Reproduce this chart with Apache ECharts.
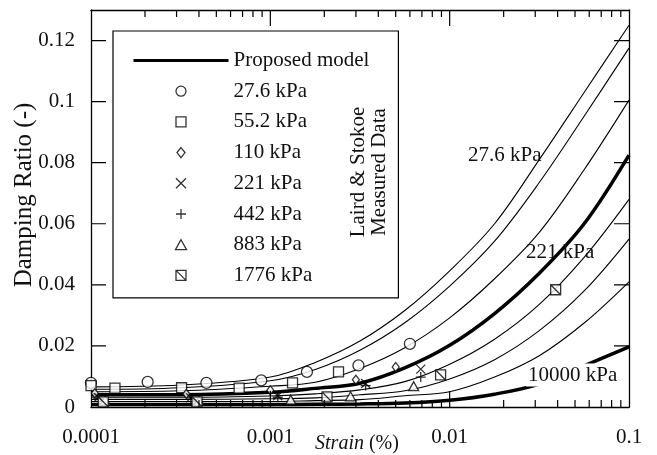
<!DOCTYPE html>
<html>
<head>
<meta charset="utf-8">
<script src="https://cdn.jsdelivr.net/npm/echarts@6/dist/echarts.min.js"></script>
<style>
    html, body { margin: 0; padding: 0; background: #fff; }
    #chart { width: 657px; height: 455px; }
</style>
</head>
<body>
<div id="chart"></div>
<script>
// strain (%) points where the model curves were read
var strainGrid = [0.0001, 0.000316, 0.001, 0.00178, 0.00316, 0.00562, 0.01, 0.0178, 0.0316, 0.0562, 0.1];

// proposed model, damping ratio for each confining pressure
var model27 = [0.0066, 0.0072, 0.0098, 0.0146, 0.0216, 0.0316, 0.0446, 0.060, 0.081, 0.103, 0.125];
var model55 = [0.0058, 0.0063, 0.0086, 0.0123, 0.0186, 0.0276, 0.0396, 0.0543, 0.0735, 0.0952, 0.1175];
var model110 = [0.0050, 0.0053, 0.0068, 0.0081, 0.0126, 0.0194, 0.0292, 0.042, 0.0572, 0.0777, 0.1005];
var model221 = [0.0040, 0.0040, 0.0048, 0.0061, 0.0078, 0.0128, 0.0202, 0.0306, 0.0438, 0.060, 0.0825];
var model442 = [0.0032, 0.0032, 0.0036, 0.0043, 0.0056, 0.0083, 0.014, 0.0222, 0.0336, 0.049, 0.068];
var model883 = [0.0025, 0.0025, 0.0027, 0.0030, 0.0040, 0.0053, 0.0092, 0.0155, 0.025, 0.038, 0.055];
var model1776 = [0.0018, 0.0018, 0.0018, 0.0021, 0.0024, 0.0037, 0.0050, 0.0098, 0.0168, 0.0275, 0.041];
var model10000 = [0.0008, 0.0008, 0.0008, 0.0009, 0.0010, 0.0013, 0.0022, 0.0042, 0.0075, 0.0135, 0.0197];

// Laird & Stokoe measured data [strain, damping]
var data27 = [[0.0001, 0.0079], [0.000207, 0.0082], [0.00044, 0.0079], [0.00089, 0.0087], [0.0016, 0.0115], [0.0031, 0.0136], [0.0060, 0.0207]];
var data55 = [[0.0001, 0.0070], [0.000136, 0.0062], [0.00032, 0.0063], [0.00067, 0.0062], [0.00133, 0.0079], [0.0024, 0.0115]];
var data110 = [[0.000105, 0.0045], [0.00034, 0.0043], [0.001, 0.0055], [0.0030, 0.0089], [0.0050, 0.0131]];
var data221 = [[0.00011, 0.0031], [0.00036, 0.0030], [0.0011, 0.0037], [0.0034, 0.0077], [0.0069, 0.0124]];
var data442 = [[0.00011, 0.0027], [0.00036, 0.0026], [0.0011, 0.0032], [0.0034, 0.0070], [0.0069, 0.0098]];
var data883 = [[0.00012, 0.0021], [0.0004, 0.0020], [0.0013, 0.0024], [0.0028, 0.0035], [0.0063, 0.0068]];
var data1776 = [[0.000117, 0.0017], [0.00039, 0.0017], [0.00207, 0.0033], [0.0089, 0.0105], [0.039, 0.0384]];

var xTickLabels = ['0.0001', '0.001', '0.01', '0.1'];
var yTicks = [0, 0.02, 0.04, 0.06, 0.08, 0.1, 0.12];
var yTickLabels = ['0', '0.02', '0.04', '0.06', '0.08', '0.1', '0.12'];

var FONT = 'Liberation Serif';
var INK = '#111';

// plot box in pixels, used to turn tick lengths into axis units
var GRID = { left: 91, right: 28, top: 10, bottom: 48 };
var X_MIN = -4, X_MAX = -1, Y_MIN = 0, Y_MAX = 0.13;
var plotW = 657 - GRID.left - GRID.right;
var plotH = 455 - GRID.top - GRID.bottom;

// x axis runs in log10(strain); minor ticks at 2..9 of each decade
var majorTicks = [-3, -2];
var minorTicks = [];
[-4, -3, -2].forEach(function (e) {
    for (var k = 2; k <= 9; k++) {
        minorTicks.push(e + Math.log10(k));
    }
});

var SYM = {
    square: 'path://M0,0L10,0L10,10L0,10Z',
    diamond: 'path://M4,0L8,5L4,10L0,5Z',
    cross: 'path://M0,0L10,10M10,0L0,10',
    plus: 'path://M5,0L5,10M0,5L10,5',
    triangle: 'path://M5,0L10,9L0,9Z',
    boxSlash: 'path://M0,0L10,0L10,10L0,10ZM0,0L10,10'
};

function toLog(pts) {
    return pts.map(function (p) {
        return [Math.log10(p[0]), p[1]];
    });
}

function zip(ys) {
    var out = [];
    for (var i = 0; i < strainGrid.length; i++) {
        out.push([strainGrid[i], ys[i]]);
    }
    return toLog(out);
}

function curve(name, ys, width) {
    return {
        name: name,
        type: 'line',
        data: zip(ys),
        smooth: 0.35,
        symbol: 'none',
        showSymbol: false,
        itemStyle: { opacity: 0 },
        lineStyle: { color: '#000', width: width },
        z: 2
    };
}

function marks(name, data, symbol, size) {
    return {
        name: name,
        type: 'scatter',
        data: toLog(data),
        symbol: symbol,
        symbolSize: size,
        itemStyle: { color: '#fff', borderColor: '#000', borderWidth: 1.3 },
        z: 3
    };
}

// inward frame ticks, as broken polylines in axis units
function tickSeries() {
    var yPerPx = (Y_MAX - Y_MIN) / plotH;
    var xPerPx = (X_MAX - X_MIN) / plotW;
    var pts = [];
    function add(a, b) {
        pts.push(a, b, [a[0], '-']);
    }
    majorTicks.forEach(function (v) {
        add([v, Y_MIN], [v, Y_MIN + 16 * yPerPx]);
        add([v, Y_MAX], [v, Y_MAX - 16 * yPerPx]);
    });
    minorTicks.forEach(function (v) {
        add([v, Y_MIN], [v, Y_MIN + 7 * yPerPx]);
        add([v, Y_MAX], [v, Y_MAX - 7 * yPerPx]);
    });
    yTicks.slice(1).forEach(function (v) {
        add([X_MIN, v], [X_MIN + 15 * xPerPx, v]);
        add([X_MAX, v], [X_MAX - 15 * xPerPx, v]);
    });
    return {
        name: 'frame ticks',
        type: 'line',
        data: pts,
        connectNulls: false,
        symbol: 'none',
        showSymbol: false,
        silent: true,
        clip: false,
        lineStyle: { color: '#000', width: 1.2 },
        z: 4
    };
}

function xLabel(v) {
    var s = xTickLabels[Math.round(v) + 4];
    return s === undefined ? '' : s;
}

function yLabel(v) {
    var i = Math.round(v / 0.02);
    var s = Math.abs(v - i * 0.02) < 1e-9 ? yTickLabels[i] : undefined;
    return s === undefined ? '' : s;
}

function xAxisCfg(pos) {
    return {
        type: 'value',
        min: X_MIN,
        max: X_MAX,
        interval: 1,
        position: pos,
        axisLine: { show: true, onZero: false, lineStyle: { color: '#000', width: 1.3 } },
        axisTick: { show: false },
        axisLabel: {
            show: pos === 'bottom',
            margin: 20,
            fontFamily: FONT,
            fontSize: 21,
            color: INK,
            formatter: xLabel
        },
        splitLine: { show: false }
    };
}

function yAxisCfg(pos) {
    return {
        type: 'value',
        min: Y_MIN,
        max: Y_MAX,
        position: pos,
        axisLine: { show: true, onZero: false, lineStyle: { color: '#000', width: 1.3 } },
        axisTick: { show: false },
        axisLabel: {
            show: pos === 'left',
            customValues: yTicks,
            margin: 16,
            fontFamily: FONT,
            fontSize: 21,
            color: INK,
            formatter: yLabel
        },
        splitLine: { show: false }
    };
}

var hollow = { color: '#fff', borderColor: '#000', borderWidth: 1.3 };
var legendNames = ['27.6 kPa', '55.2 kPa', '110 kPa', '221 kPa', '442 kPa', '883 kPa', '1776 kPa'];
var legendData = [{ name: 'Proposed model', itemStyle: { opacity: 0 } }].concat(legendNames.map(function (n) {
    return { name: n, itemStyle: hollow };
}));

var chart = echarts.init(document.getElementById('chart'));
var option = {
    animation: false,
    backgroundColor: '#fff',
    grid: GRID,
    xAxis: [xAxisCfg('bottom'), xAxisCfg('top')],
    yAxis: [yAxisCfg('left'), yAxisCfg('right')],
    legend: {
        orient: 'vertical',
        left: 113,
        top: 31,
        itemWidth: 95,
        itemHeight: 10,
        itemGap: 9.7,
        padding: [19, 29, 12, 19],
        borderColor: '#000',
        borderWidth: 1.2,
        backgroundColor: '#fff',
        selectedMode: false,
        textStyle: { fontFamily: FONT, fontSize: 21, color: INK },
        lineStyle: { width: 3, color: '#000' },
        data: legendData
    },
    graphic: [
        {
            type: 'text', x: 24, y: 195, rotation: Math.PI / 2,
            style: { text: 'Damping Ratio (-)', fontFamily: FONT, fontSize: 25, fill: INK, align: 'center', verticalAlign: 'middle' }
        },
        {
            type: 'text', x: 357, y: 444,
            style: {
                text: '{i|Strain} (%)', fontFamily: FONT, fontSize: 20, fill: INK, align: 'center', verticalAlign: 'middle',
                rich: { i: { fontFamily: FONT, fontSize: 20, fontStyle: 'italic', fill: INK } }
            }
        },
        {
            type: 'text', x: 369, y: 172, rotation: Math.PI / 2, z: 100,
            style: { text: 'Laird & Stokoe\nMeasured Data', fontFamily: FONT, fontSize: 21, lineHeight: 21, fill: INK, align: 'center', verticalAlign: 'middle' }
        },
        {
            type: 'text', x: 468, y: 155, z: 100,
            style: { text: '27.6 kPa', fontFamily: FONT, fontSize: 21, fill: INK, verticalAlign: 'middle' }
        },
        {
            type: 'text', x: 526, y: 252, z: 100,
            style: { text: '221 kPa', fontFamily: FONT, fontSize: 21, fill: INK, verticalAlign: 'middle' }
        },
        {
            type: 'text', x: 526, y: 375, z: 100,
            style: { text: '10000 kPa', fontFamily: FONT, fontSize: 21, fill: INK, verticalAlign: 'middle', backgroundColor: '#fff', padding: [1, 2] }
        }
    ],
    series: [
        curve('Proposed model', model221, 3.5),
        curve('m27', model27, 1.1),
        curve('m55', model55, 1.1),
        curve('m110', model110, 1.1),
        curve('m442', model442, 1.1),
        curve('m883', model883, 1.1),
        curve('m1776', model1776, 1.1),
        curve('m10000', model10000, 3.5),
        marks('27.6 kPa', data27, 'circle', 11),
        marks('55.2 kPa', data55, SYM.square, 10),
        marks('110 kPa', data110, SYM.diamond, [7, 9]),
        marks('221 kPa', data221, SYM.cross, 9),
        marks('442 kPa', data442, SYM.plus, 10),
        marks('883 kPa', data883, SYM.triangle, [10, 9]),
        marks('1776 kPa', data1776, SYM.boxSlash, 10),
        tickSeries()
    ]
};
chart.setOption(option);
</script>
</body>
</html>
